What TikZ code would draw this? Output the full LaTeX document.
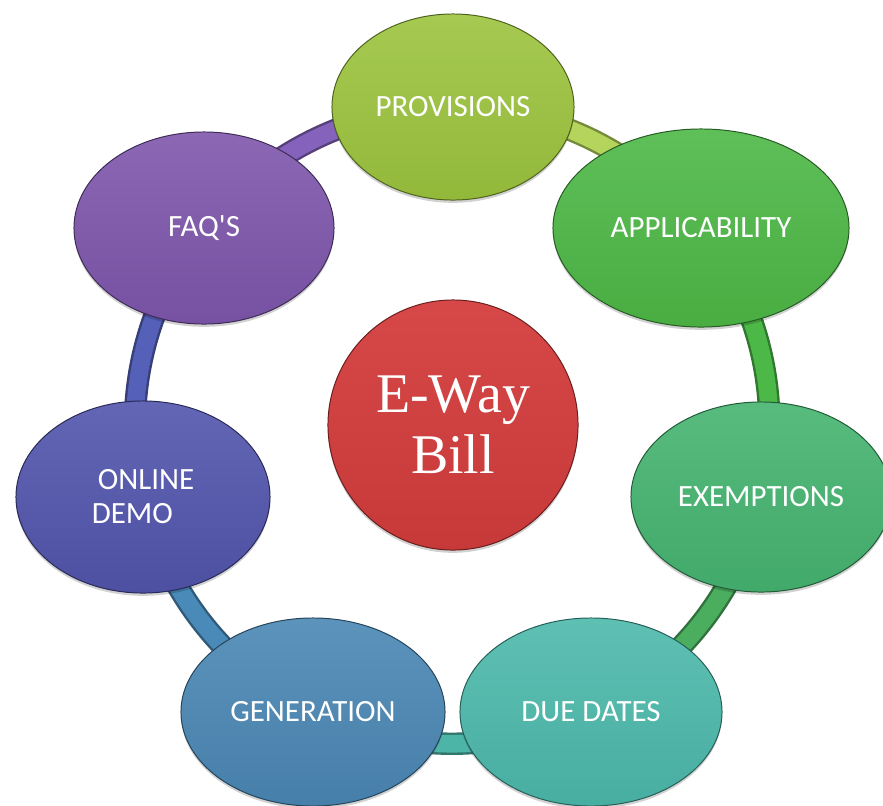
\documentclass[tikz,border=0pt]{standalone}
\usepackage{fontspec}
\setmainfont{Carlito}[Ligatures=TeXOff]
\newfontfamily\centerserif{Liberation Serif}
\usetikzlibrary{shapes.geometric,backgrounds,shadows}
\definecolor{cprov}{HTML}{9CC43E}
\definecolor{capp}{HTML}{4DB846}
\definecolor{cexemp}{HTML}{45B470}
\definecolor{cdue}{HTML}{4CB9AB}
\definecolor{cgen}{HTML}{4A87B4}
\definecolor{conline}{HTML}{5255AC}
\definecolor{cfaq}{HTML}{7E56AC}
\definecolor{cred}{HTML}{D43C3C}
\definecolor{lfp}{HTML}{8563BC}
\definecolor{lpa}{HTML}{B5D45C}
\definecolor{lae}{HTML}{4CB848}
\definecolor{led}{HTML}{4AAE5E}
\definecolor{ldg}{HTML}{4DB5A8}
\definecolor{lgo}{HTML}{4A8AB8}
\definecolor{lof}{HTML}{5560B8}
\begin{document}
\begin{tikzpicture}[x=0.025cm,y=-0.025cm,
  item/.style={ellipse, draw=#1!50!black, line width=0.7pt,
    top color=#1!90!white, bottom color=#1!94!black,
    text=white, font=\fontsize{22}{24.2}\selectfont, inner sep=0pt,
    drop shadow={shadow xshift=0pt, shadow yshift=-0.07cm, opacity=0.18, fill=black}},
  link/.style={draw=#1!65!black, line width=0.06cm, double=#1, double distance=0.44cm},
  hub/.style={circle, draw=#1!50!black, line width=0.7pt,
    top color=#1!94!white, bottom color=#1!94!black, text=white,
    minimum size=6.25cm, inner sep=0pt, align=center,
    font=\centerserif\fontsize{39.8}{43.4}\selectfont,
    drop shadow={shadow xshift=0pt, shadow yshift=-0.07cm, opacity=0.18, fill=black}}]
\useasboundingbox (0,0) rectangle (883,805);
\node[hub=cred] (hub) at (453,425) {E-Way\\Bill};
\node[item=cprov, minimum width=6.05cm, minimum height=4.65cm] (prov) at (453,107) {PROVISIONS};
\node[item=capp, minimum width=7.4cm, minimum height=4.95cm] (app) at (701,228) {APPLICABILITY};
\node[item=cexemp, minimum width=6.5cm, minimum height=4.75cm] (exemp) at (761,497) {EXEMPTIONS};
\node[item=cdue, minimum width=6.55cm, minimum height=4.7cm] (due) at (591,712) {DUE DATES};
\node[item=cgen, minimum width=6.6cm, minimum height=4.7cm] (gen) at (313,712) {GENERATION};
\node[item=conline, minimum width=6.35cm, minimum height=4.8cm, align=left] (online) at (143,497) {\hspace{0.15cm}ONLINE\\DEMO\hspace{0.6cm}};
\node[item=cfaq, minimum width=6.5cm, minimum height=4.8cm] (faq) at (204,228) {FAQ'S};
\begin{pgfonlayer}{background}
\draw[link=lfp] (faq.center) to[bend left=25.7, looseness=0.9] (prov.center);
\draw[link=lpa] (prov.center) to[bend left=25.7, looseness=0.9] (app.center);
\draw[link=lae] (app.center) to[bend left=25.7, looseness=0.9] (exemp.center);
\draw[link=led] (exemp.center) to[bend left=25.7, looseness=0.9] (due.center);
\draw[link=ldg] (due.center) to[bend left=25.7, looseness=0.9] (gen.center);
\draw[link=lgo] (gen.center) to[bend left=25.7, looseness=0.9] (online.center);
\draw[link=lof] (online.center) to[bend left=25.7, looseness=0.9] (faq.center);
\end{pgfonlayer}
\end{tikzpicture}
\end{document}
